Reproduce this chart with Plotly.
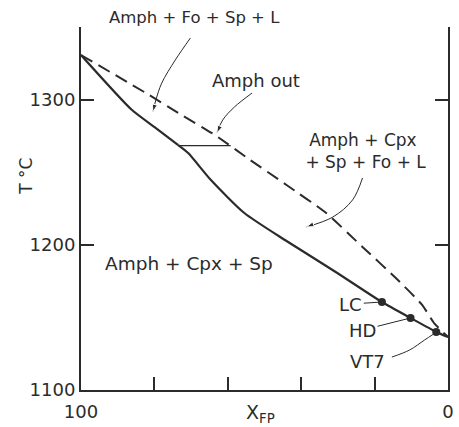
import plotly.graph_objects as go

# ---- data (X_FP, T in deg C) ----
solidus_x = [100, 86.1, 79.6, 73.5, 70.8, 64.6, 55.5, 44.0, 30.6, 18.0, 10.2, 3.2, 0]
solidus_t = [1330.7, 1292.8, 1280.4, 1268.7, 1263.2, 1244.6, 1221.9, 1202.6, 1181.3, 1160.6, 1149.6, 1140.0, 1136.5]
kink_index = 3  # where the tie line meets the solid curve

amph_out_x = [100, 82.3, 73.5, 63.5, 53.9, 44.0, 33.2, 23.3, 14.5, 7.0, 3.8, 0]
amph_out_t = [1330.7, 1304.5, 1290.8, 1275.6, 1258.4, 1241.2, 1221.9, 1198.5, 1177.8, 1158.5, 1146.1, 1136.5]

tie_x = [73.5, 59.2]
tie_t = [1268.3, 1268.3]

sample_names = ["LC", "HD", "VT7"]
sample_x = [18.0, 10.2, 3.2]
sample_t = [1160.6, 1149.6, 1140.0]

y_ticks = [1100, 1200, 1300]
x_major_ticks = [100, 0]
x_major_text = ["100", "0"]
x_minor_ticks = [80, 60, 40, 20]

INK = "#2b2b2b"
FONT = "DejaVu Sans"

fig = go.Figure()

fig.add_trace(go.Scatter(x=amph_out_x, y=amph_out_t, mode="lines",
                         line=dict(color=INK, width=2, dash="13px,7px", shape="spline", smoothing=0.5),
                         hoverinfo="skip", showlegend=False))
# solid curve: two smooth pieces meeting at the kink
for seg in (slice(0, kink_index + 1), slice(kink_index, None)):
    fig.add_trace(go.Scatter(x=solidus_x[seg], y=solidus_t[seg], mode="lines",
                             line=dict(color=INK, width=2.2, shape="spline", smoothing=0.6),
                             hoverinfo="skip", showlegend=False))
fig.add_trace(go.Scatter(x=tie_x, y=tie_t, mode="lines",
                         line=dict(color=INK, width=1.4),
                         hoverinfo="skip", showlegend=False))
fig.add_trace(go.Scatter(x=sample_x, y=sample_t, mode="markers",
                         marker=dict(color=INK, size=8),
                         hoverinfo="skip", showlegend=False))

# curved leader lines for field labels
leaders = [
    ([70.2, 74.3, 78.0, 79.6, 80.4], [1342.4, 1327.3, 1311.4, 1299.7, 1291.5]),
    ([53.4, 58.2, 61.4, 63.0], [1304.5, 1294.9, 1285.9, 1277.0]),
    ([23.3, 26.0, 31.4, 38.6], [1246.0, 1230.9, 1219.1, 1212.3]),
    ([15.3, 10.5, 6.4, 3.9], [1122.7, 1127.5, 1134.4, 1138.6]),
]
for i, (lx, ly) in enumerate(leaders):
    fig.add_trace(go.Scatter(x=lx, y=ly, mode="lines",
                             line=dict(color=INK, width=1, shape="spline"),
                             hoverinfo="skip", showlegend=False))
    if i < 3:
        # arrowhead oriented along the last segment of the leader
        fig.add_trace(go.Scatter(x=lx[-2:], y=ly[-2:], mode="markers",
                                 marker=dict(symbol="arrow", angleref="previous",
                                             size=[1, 8], opacity=[0, 1], color=INK),
                                 hoverinfo="skip", showlegend=False))

def txt(size):
    return dict(family=FONT, size=size, color=INK)

fig.add_annotation(x=69.2, xref="x", y=1.0275, yref="paper", yanchor="middle",
                   text="Amph + Fo + Sp + L", showarrow=False, font=txt(16.5))
fig.add_annotation(x=52.3, y=1313.5, text="Amph out", showarrow=False, font=txt(18))
fig.add_annotation(x=23.1, y=1264.6, text="Amph + Cpx<br> + Sp + Fo + L", showarrow=False, font=txt(17))
fig.add_annotation(x=70.5, y=1186.8, text="Amph + Cpx + Sp", showarrow=False, font=txt(18.5))

# sample labels with leaders
fig.add_annotation(x=sample_x[0], y=sample_t[0], ax=26.5, ay=1159.2, axref="x", ayref="y",
                   text=sample_names[0], showarrow=True, arrowhead=0, arrowwidth=1,
                   arrowcolor=INK, standoff=3, font=txt(18))
fig.add_annotation(x=sample_x[1], y=sample_t[1], ax=23.3, ay=1141.3, axref="x", ayref="y",
                   text=sample_names[1], showarrow=True, arrowhead=0, arrowwidth=1,
                   arrowcolor=INK, standoff=3, font=txt(18))
fig.add_annotation(x=22.0, y=1119.3, text=sample_names[2], showarrow=False, font=txt(18))

# axis titles
fig.add_annotation(xref="paper", yref="paper", x=-0.150, y=0.59, xanchor="center", yanchor="middle",
                   text="T °C", textangle=-90, showarrow=False, font=txt(17))
fig.add_annotation(xref="paper", yref="paper", x=0.49, y=-0.066, xanchor="center", yanchor="middle",
                   text="X<sub>FP</sub>", showarrow=False, font=txt(19))

axis_common = dict(showgrid=False, zeroline=False, showline=True, linewidth=2, linecolor=INK,
                   ticks="inside", ticklen=13, tickwidth=1.5, tickcolor=INK,
                   tickfont=dict(family=FONT, size=18, color=INK))

fig.update_xaxes(range=[100, 0], tickvals=x_major_ticks, ticktext=x_major_text, mirror=False,
                 ticklabelstandoff=4,
                 minor=dict(tickvals=x_minor_ticks, ticks="inside", ticklen=13, tickwidth=1.5,
                            tickcolor=INK, showgrid=False),
                 **axis_common)
fig.update_yaxes(range=[1100, 1350], tickvals=y_ticks, mirror="ticks", **axis_common)

fig.update_layout(width=459, height=427, autosize=False,
                  margin=dict(l=81, r=5, t=27, b=37),
                  plot_bgcolor="white", paper_bgcolor="white",
                  font=dict(family=FONT, color=INK))

fig.write_html("out.html")
